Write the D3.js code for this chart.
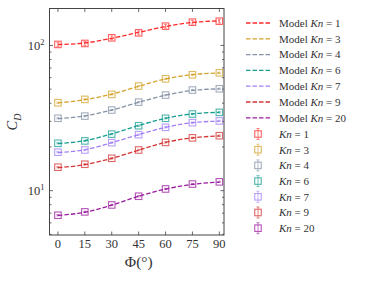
<!DOCTYPE html>
<html>
<head>
<meta charset="utf-8">
<script src="https://cdn.jsdelivr.net/npm/d3@7/dist/d3.min.js"></script>
<style>
  body { margin: 0; background: #fff; }
  svg { display: block; font-family: "Liberation Serif", "DejaVu Serif", serif; }
</style>
</head>
<body>
<script>
// angles (deg) and Knudsen numbers
var phi = [0, 15, 30, 45, 60, 75, 90];
var knLabels = ["1", "3", "4", "6", "7", "9", "20"];
var colors = ["#ff2a2a", "#d4a32c", "#8492a6", "#159e92", "#a07ff5", "#d43434", "#9a1c9e"];

// model curves (dashed)
var model1  = [101.5, 104, 112, 123, 135, 144, 147.5];
var model3  = [40.2, 42.3, 46.2, 52.3, 58.8, 63, 64.6];
var model4  = [31.3, 32.7, 35.9, 40.6, 45.4, 49, 50.2];
var model6  = [21.1, 22.1, 24.6, 28.1, 31.5, 33.8, 34.6];
var model7  = [18.3, 19.1, 21.4, 24.3, 27.3, 29.4, 30.1];
var model9  = [14.4, 15.1, 16.7, 19.0, 21.5, 23.1, 23.8];
var model20 = [6.75, 7.1, 7.95, 9.15, 10.25, 11.05, 11.45];
var models = [model1, model3, model4, model6, model7, model9, model20];

// simulation points (squares with error bars)
var data1  = [101.6, 103.2, 112.8, 122.1, 135.7, 144.6, 146.9];
var data3  = [40.3, 42.5, 46.0, 52.5, 58.9, 62.8, 64.8];
var data4  = [31.5, 32.6, 35.9, 40.7, 45.5, 49.3, 50.3];
var data6  = [21.2, 22.0, 24.5, 28.0, 31.5, 33.7, 34.6];
var data7  = [18.4, 19.05, 21.4, 24.3, 27.3, 29.4, 30.2];
var data9  = [14.5, 15.2, 16.7, 19.05, 21.5, 23.1, 23.9];
var data20 = [6.77, 7.14, 7.97, 9.15, 10.27, 11.1, 11.5];
var datas = [data1, data3, data4, data6, data7, data9, data20];
// relative error of the points
var relErr = [0.03, 0.01, 0.01, 0.01, 0.01, 0.01, 0.01];

var W = 374, H = 281;
var pL = 49.5, pR = 224, pT = 8.5, pB = 235;

var svg = d3.select("body").append("svg").attr("width", W).attr("height", H);

var x = d3.scaleLinear().domain([-4.7, 92.6]).range([pL, pR]);
var y = d3.scaleLog().domain([4.95, 179.6]).range([pB, pT]);

var axisCol = "#444";
var textCol = "#333";

// frame
svg.append("rect")
  .attr("x", pL).attr("y", pT)
  .attr("width", pR - pL).attr("height", pB - pT)
  .attr("fill", "none").attr("stroke", axisCol).attr("stroke-width", 1);

// x ticks (inward, bottom and top)
var g = svg.append("g").attr("stroke", axisCol).attr("stroke-width", 0.8);
phi.forEach(function (p) {
  g.append("line").attr("x1", x(p)).attr("x2", x(p)).attr("y1", pB).attr("y2", pB - 3.5);
  g.append("line").attr("x1", x(p)).attr("x2", x(p)).attr("y1", pT).attr("y2", pT + 3.5);
});
svg.append("g").selectAll("text").data(phi).enter().append("text")
  .attr("x", function (d) { return x(d); })
  .attr("y", 248)
  .attr("text-anchor", "middle")
  .attr("font-size", 12.5)
  .attr("fill", textCol)
  .text(function (d) { return d; });

// y ticks: major at decades, minor in between
var minor = [5, 6, 7, 8, 9, 20, 30, 40, 50, 60, 70, 80, 90];
var major = [10, 100];
minor.forEach(function (v) {
  g.append("line").attr("x1", pL).attr("x2", pL + 2).attr("y1", y(v)).attr("y2", y(v));
  g.append("line").attr("x1", pR).attr("x2", pR - 2).attr("y1", y(v)).attr("y2", y(v));
});
major.forEach(function (v) {
  g.append("line").attr("x1", pL).attr("x2", pL + 3.5).attr("y1", y(v)).attr("y2", y(v));
  g.append("line").attr("x1", pR).attr("x2", pR - 3.5).attr("y1", y(v)).attr("y2", y(v));
});
major.forEach(function (v, i) {
  var t = svg.append("text")
    .attr("x", pL - 5).attr("y", y(v) + 4.5)
    .attr("text-anchor", "end")
    .attr("font-size", 12.5)
    .attr("fill", textCol);
  t.append("tspan").text("10");
  t.append("tspan").attr("dy", -5).attr("font-size", 8.5).text(i + 1);
});

// axis labels
var xl = svg.append("text")
  .attr("x", (pL + pR) / 2 + 2).attr("y", 267)
  .attr("text-anchor", "middle").attr("font-size", 15.5).attr("fill", textCol);
xl.append("tspan").text("Φ(°)");

var yl = svg.append("text")
  .attr("transform", "translate(17,122) rotate(-90)")
  .attr("text-anchor", "middle").attr("font-size", 14.5).attr("fill", textCol);
yl.append("tspan").attr("font-style", "italic").text("C");
yl.append("tspan").attr("font-style", "italic").attr("font-size", 10).attr("dy", 3.5).text("D");

// model lines
var line = d3.line()
  .x(function (d, i) { return x(phi[i]); })
  .y(function (d) { return y(d); })
  .curve(d3.curveMonotoneX);

models.forEach(function (m, k) {
  svg.append("path")
    .attr("d", line(m))
    .attr("fill", "none")
    .attr("stroke", colors[k])
    .attr("stroke-width", 1.3)
    .attr("stroke-dasharray", "4.5,2");
});

// points with error bars
var sq = 6.5;
datas.forEach(function (dd, k) {
  var gp = svg.append("g").attr("stroke", colors[k]).attr("fill", "none").attr("opacity", 0.75);
  dd.forEach(function (v, i) {
    var cx = x(phi[i]), lo = y(v * (1 - relErr[k])), hi = y(v * (1 + relErr[k]));
    gp.append("line").attr("x1", cx).attr("x2", cx).attr("y1", lo).attr("y2", hi).attr("stroke-width", 0.8);
    gp.append("line").attr("x1", cx - 1.5).attr("x2", cx + 1.5).attr("y1", lo).attr("y2", lo).attr("stroke-width", 0.8);
    gp.append("line").attr("x1", cx - 1.5).attr("x2", cx + 1.5).attr("y1", hi).attr("y2", hi).attr("stroke-width", 0.8);
    gp.append("rect")
      .attr("x", cx - sq / 2).attr("y", y(v) - sq / 2)
      .attr("width", sq).attr("height", sq)
      .attr("stroke-width", 1.1);
  });
});

// legend
var legY0 = 23, legStep = 15.8, legX = 279;
knLabels.forEach(function (kn, k) {
  var ly = legY0 + k * legStep;
  svg.append("line")
    .attr("x1", 246).attr("x2", 270).attr("y1", ly).attr("y2", ly)
    .attr("stroke", colors[k]).attr("stroke-width", 1.3)
    .attr("stroke-dasharray", "4.5,2");
  var t = svg.append("text").attr("x", legX).attr("y", ly + 3.8)
    .attr("font-size", 11).attr("fill", textCol);
  t.append("tspan").text("Model ");
  t.append("tspan").attr("font-style", "italic").text("Kn");
  t.append("tspan").text(" = " + kn);
});
knLabels.forEach(function (kn, k) {
  var ly = 134 + k * 15.7, cx = 258;
  var gl = svg.append("g").attr("stroke", colors[k]).attr("fill", "none").attr("opacity", 0.75);
  gl.append("line").attr("x1", cx).attr("x2", cx).attr("y1", ly - 5.5).attr("y2", ly + 5.5).attr("stroke-width", 0.8);
  gl.append("line").attr("x1", cx - 1.5).attr("x2", cx + 1.5).attr("y1", ly - 5.5).attr("y2", ly - 5.5).attr("stroke-width", 0.8);
  gl.append("line").attr("x1", cx - 1.5).attr("x2", cx + 1.5).attr("y1", ly + 5.5).attr("y2", ly + 5.5).attr("stroke-width", 0.8);
  gl.append("rect").attr("x", cx - 3.25).attr("y", ly - 3.25).attr("width", sq).attr("height", sq).attr("stroke-width", 1.1);
  var t = svg.append("text").attr("x", legX).attr("y", ly + 3.8)
    .attr("font-size", 11).attr("fill", textCol);
  t.append("tspan").attr("font-style", "italic").text("Kn");
  t.append("tspan").text(" = " + kn);
});
</script>
</body>
</html>
